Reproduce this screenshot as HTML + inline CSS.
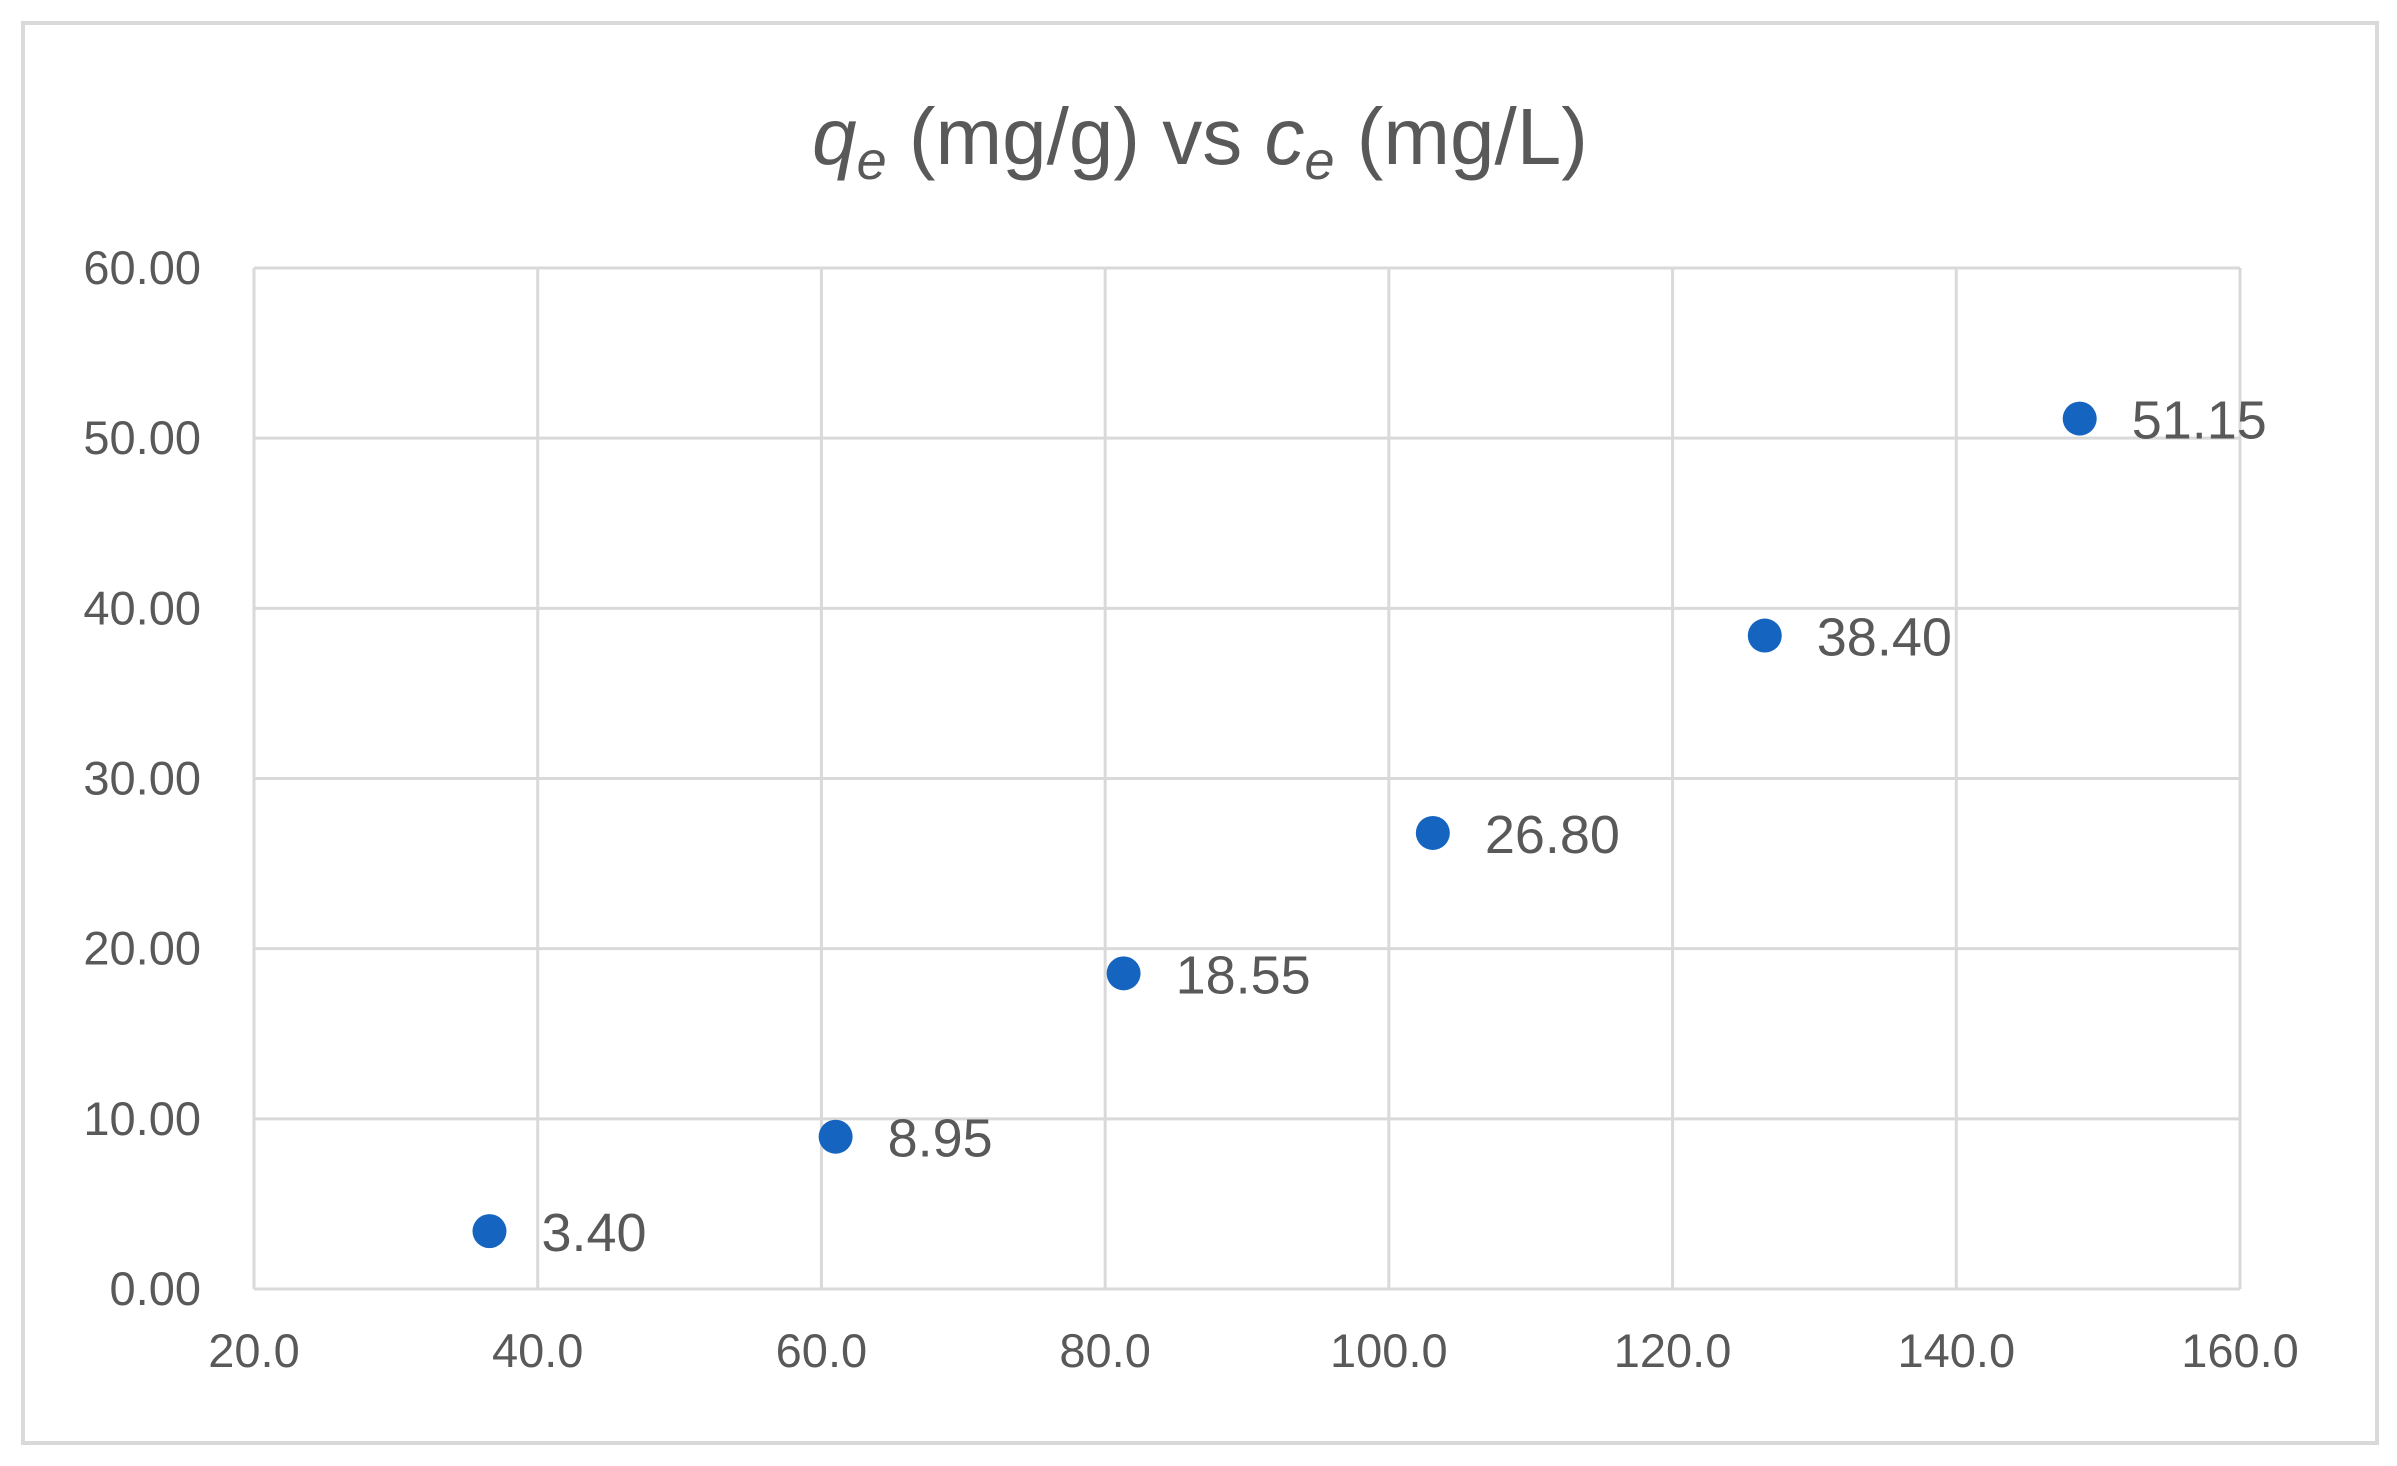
<!DOCTYPE html>
<html><head><meta charset="utf-8"><style>
html,body{margin:0;padding:0;background:#fff}
svg{display:block}
text{font-family:"Liberation Sans",sans-serif;fill:#595959}
</style></head><body>
<svg id="chart" width="2397" height="1466" xmlns="http://www.w3.org/2000/svg">
<rect x="23" y="23" width="2354" height="1420" fill="#fff" stroke="#d9d9d9" stroke-width="4"/>
<text x="1200" y="164" text-anchor="middle" font-size="80"><tspan font-style="italic">q</tspan><tspan font-style="italic" font-size="54" dy="15">e</tspan><tspan dy="-15"> (mg/g) vs </tspan><tspan font-style="italic">c</tspan><tspan font-style="italic" font-size="54" dy="15">e</tspan><tspan dy="-15"> (mg/L)</tspan></text>
<g id="grid"></g><g id="axes"></g><g id="marks"></g>
</svg>
<script>
const xValues=[36.6,61.0,81.3,103.1,126.5,148.7];
const yValues=[3.40,8.95,18.55,26.80,38.40,51.15];
const pointLabels=["3.40","8.95","18.55","26.80","38.40","51.15"];
const xTicks=[20,40,60,80,100,120,140,160];
const yTicks=[0,10,20,30,40,50,60];
const xMin=20,xMax=160,yMin=0,yMax=60;
const L=254,R=2240,T=268,B=1289;
const sx=v=>L+(v-xMin)/(xMax-xMin)*(R-L);
const sy=v=>B-(v-yMin)/(yMax-yMin)*(B-T);
const NS="http://www.w3.org/2000/svg";
const grid=document.getElementById('grid'),axes=document.getElementById('axes'),marks=document.getElementById('marks');
function mk(t,a,p){const e=document.createElementNS(NS,t);for(const k in a)e.setAttribute(k,a[k]);p.appendChild(e);return e;}
xTicks.forEach(v=>{
 const l=mk('line',{x1:sx(v),x2:sx(v),y1:T,y2:B,stroke:'#d9d9d9','stroke-width':3},grid);
 
 
 const t=mk('text',{x:sx(v),y:B+78,'text-anchor':'middle','font-size':47},axes);
 t.textContent=v.toFixed(1);
 
 
});
yTicks.forEach(v=>{
 const l=mk('line',{x1:L,x2:R,y1:sy(v),y2:sy(v),stroke:'#d9d9d9','stroke-width':3},grid);
 
 
 const t=mk('text',{x:L-53,y:sy(v)+16,'text-anchor':'end','font-size':47},axes);
 t.textContent=v.toFixed(2);
 
 
});
xValues.forEach((x,i)=>{
 const c=mk('circle',{cx:sx(x),cy:sy(yValues[i]),r:17,fill:'#1565c0'},marks);
 
 
 const t=mk('text',{x:sx(x)+52,y:sy(yValues[i])+20,'font-size':54,fill:'#404040'},marks);
 t.textContent=pointLabels[i];
 
 
});
</script>
</body></html>
